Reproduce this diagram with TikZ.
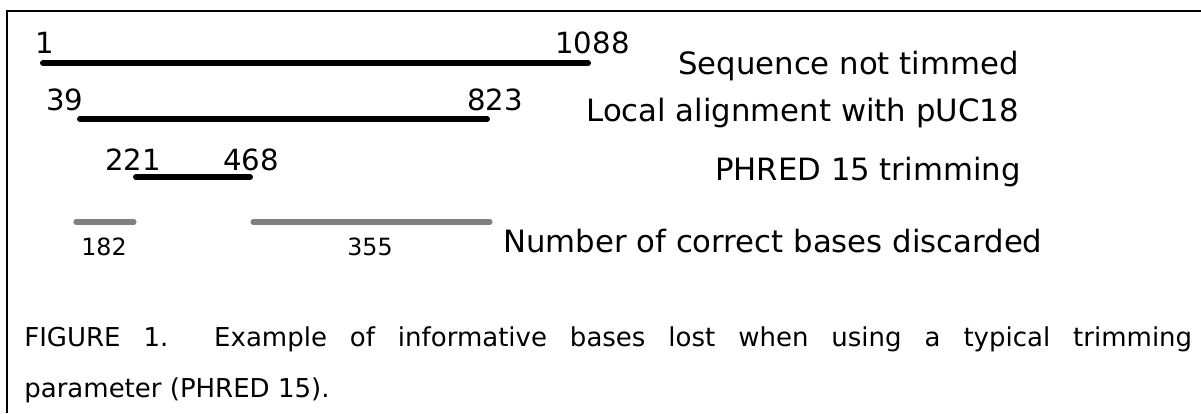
\documentclass[tikz,border=0pt]{standalone}
\usepackage{fontspec}
\setmainfont{DejaVu Sans}
\usetikzlibrary{positioning}

\begin{document}
\begin{tikzpicture}[x=0.02cm,y=-0.02cm]

\tikzset{bar/.style={line width=3.4pt, line cap=round, color=black},
lost/.style={line width=2.9pt, line cap=round, color=black!50},
%numbers at the ends of the reads
endnum/.style={inner sep=0pt, anchor=base west, font=\fontsize{16.6}{20}\selectfont},
lostnum/.style={inner sep=0pt, anchor=base, font=\fontsize{13.5}{16}\selectfont},
rowlabel/.style={inner sep=0pt, anchor=base east, font=\fontsize{17.5}{21}\selectfont},
caption/.style={inner sep=0pt, anchor=base west, font=\fontsize{14.8}{18}\selectfont}}

\useasboundingbox (0,0) rectangle (1201,413);

% frame, only top and left side
\draw[line width=1.3pt] (7,413) -- (7,11) -- (1201,11);

% the three reads
\foreach \n/\a/\b/\y in {full/43/588/63, align/80/487/119, phred/136/250/177}
{
  \coordinate (\n-l) at (\a,\y);
  \coordinate (\n-r) at (\b,\y);
  \draw[bar] (\n-l) -- (\n-r);
}

\node[endnum] (p1) at (35,53) {1};
\node[endnum] (p1088) at (555,53) {1088};
\node[endnum] (p39) at (46,110) {39};
\node[endnum] (p823) at (467,110) {823};
\node[endnum] (p221) at (105,170) {221};
\node[endnum] (p468) at (223,170) {468};

% bases thrown away by the trimming
\foreach \n/\a/\b in {left/76/134, right/253/490}
{
  \coordinate (\n-l) at (\a,222);
  \coordinate (\n-r) at (\b,222);
  \draw[lost] (\n-l) -- (\n-r);
}

\node[lostnum] (c182) at (104,255) {182};
\node[lostnum] (c355) at (370,255) {355};

\node[rowlabel] (seq) at (1019,74) {Sequence not timmed};
\node[rowlabel] (loc) at (1019,121) {Local alignment with pUC18};
\node[rowlabel] (trim) at (1021,180) {PHRED 15 trimming};
\node[rowlabel, anchor=base west] (disc) at (503,252) {Number of correct bases discarded};

% caption under the drawing
\node[caption] (cap1) at (24,346) {\makebox[23.36cm][s]{FIGURE 1.\ \ Example of informative bases lost when using a typical trimming}};
\node[caption] (cap2) at (24,397) {parameter (PHRED 15).};

\end{tikzpicture}
\end{document}
